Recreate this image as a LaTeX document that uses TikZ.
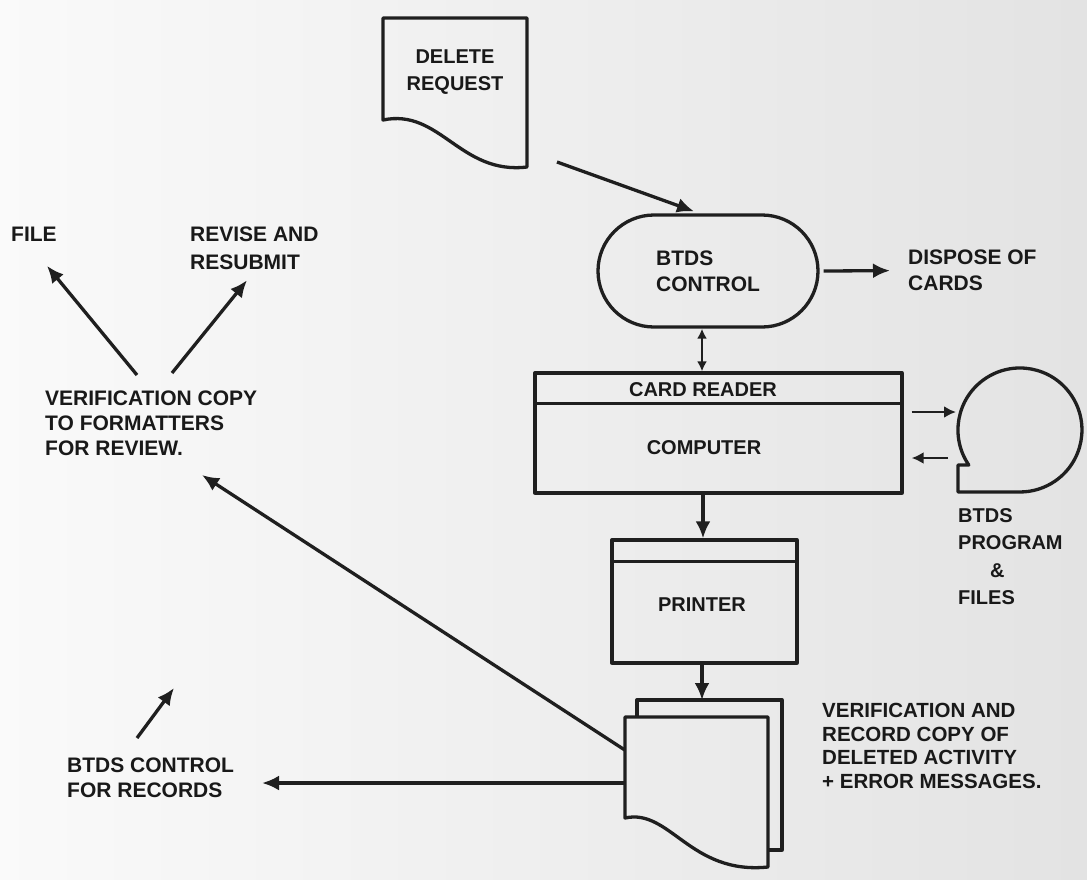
\documentclass[tikz,border=0pt]{standalone}
\usepackage{fontspec}
\setmainfont{Liberation Sans}
\usetikzlibrary{arrows.meta,shapes.misc}
\begin{document}
\begin{tikzpicture}[x=1pt,y=-1pt,
  ink/.style={draw=black!88,line width=3.3pt,line join=round},
  arr/.style={ink,-{Latex[length=17pt,width=15pt]}},
  sarr/.style={ink,line width=2.8pt,-{Latex[length=12pt,width=12pt]}},
  dsarr/.style={ink,line width=2.8pt,{Latex[length=10pt,width=10pt]}-{Latex[length=10pt,width=10pt]}},
  lbl/.style={inner sep=0pt,text=black!90,align=left,anchor=north west,
    font=\bfseries\fontsize{21}{25}\selectfont},
  box/.style={ink,inner sep=0pt},
  txt/.style={inner sep=0pt,text=black!90,font=\bfseries\fontsize{20}{25}\selectfont},
]
% paper
\fill[left color=white!98!black,right color=white!89!black] (0,0) rectangle (1087,879);
\useasboundingbox (0,0) rectangle (1087,879);

% delete request (document symbol)
\draw[ink] (383,120) -- (383,18) -- (527,18) -- (527,167)
  .. controls (460,175) and (440,108) .. (383,120) -- cycle;
\node[txt,align=center,font=\bfseries\fontsize{20}{27}\selectfont] (req) at (455,72) {DELETE\\REQUEST};
\coordinate (reqout) at (557,162);

% BTDS control (terminal)
\node[box,rounded rectangle,minimum width=220pt,minimum height=112pt,
  align=left,text=black!90,font=\bfseries\fontsize{21}{26}\selectfont] (ctl) at (708,271) {BTDS\\CONTROL};
\node[lbl,font=\bfseries\fontsize{21}{26}\selectfont] (dispose) at (908,250) {DISPOSE OF\\CARDS};

% card reader / computer
\node[box,minimum width=367pt,minimum height=120pt] (comp) at (718.5,433) {};
\draw[ink] ([yshift=-32pt]comp.north west) -- ([yshift=-32pt]comp.north east);
\node[txt] (reader) at (703,390) {CARD READER};
\node[txt] (computer) at (704,448) {COMPUTER};

% BTDS program & files (disk symbol)
\coordinate (dsk) at (1020,430);
\draw[ink] (968.8,465) arc[start angle=145.6,end angle=450,radius=62]
  -- (958,492) -- (958,465) -- cycle;
\node[lbl,font=\bfseries\fontsize{20}{27.5}\selectfont] (prog) at (958,508)
  {BTDS\\PROGRAM\\\hspace*{32pt}\&\\FILES};

% printer
\node[box,minimum width=185pt,minimum height=123pt] (prn) at (704.5,601.5) {};
\draw[ink] ([yshift=-23pt]prn.north west) -- ([yshift=-23pt]prn.north east);
\node[txt] (printer) at (702,605) {PRINTER};

% printed output (multiple documents)
\draw[ink] (637,717) -- (637,700) -- (782,700) -- (782,850) -- (768,850);
\draw[ink] (625,818) -- (625,717) -- (768,717) -- (768,867)
  .. controls (690,875) and (670,808) .. (625,818) -- cycle;
\node[inner sep=0pt,minimum width=143pt,minimum height=150pt] (vdoc) at (696.5,792) {};
\coordinate (backtop) at (702,700);
\node[lbl,font=\bfseries\fontsize{20.5}{23.5}\selectfont] (vrec) at (822,703)
  {VERIFICATION AND\\RECORD COPY OF\\DELETED ACTIVITY\\+ ERROR MESSAGES.};

% left-hand destinations
\node[lbl] (file) at (11,227) {FILE};
\node[lbl,font=\bfseries\fontsize{21}{28}\selectfont] (revise) at (190,227) {REVISE AND\\RESUBMIT};
\node[lbl] (vc) at (45,391) {VERIFICATION COPY\\TO FORMATTERS\\FOR REVIEW.};
\node[lbl] (rec) at (67,758) {BTDS CONTROL\\FOR RECORDS};
\coordinate (recup) at (174,688);
\coordinate (vctip) at (202,475);
\coordinate (rectip) at (262,783);

% flow
\draw[arr] (reqout) -- ([xshift=-14pt,yshift=2pt]ctl.north);
\draw[arr] ([xshift=4pt]ctl.east) -- ([xshift=-18pt]dispose.west);
\draw[dsarr] ([xshift=-6pt]ctl.south) -- ([xshift=-16.5pt]comp.north);
\draw[sarr] ([shift={(8pt,21pt)}]comp.east) -- ([shift={(-64pt,18pt)}]dsk);
\draw[sarr] ([shift={(-72pt,-28pt)}]dsk) -- ([shift={(8pt,-25pt)}]comp.east);
\draw[arr] ([xshift=-15.5pt]comp.south) -- ([xshift=-1.5pt]prn.north);
\draw[arr] ([xshift=-2.5pt]prn.south) -- (backtop);
\draw[arr] ([yshift=42pt]vdoc.west) -- (vctip);
\draw[arr] ([yshift=9pt]vdoc.west) -- (rectip);
\draw[arr] ([shift={(92pt,16pt)}]vc.north west) -- ([shift={(36pt,-24pt)}]file.south west);
\draw[arr] ([shift={(127pt,18pt)}]vc.north west) -- ([shift={(57pt,-10pt)}]revise.south west);
\draw[arr] ([shift={(70pt,20pt)}]rec.north west) -- (recup);
\end{tikzpicture}
\end{document}
